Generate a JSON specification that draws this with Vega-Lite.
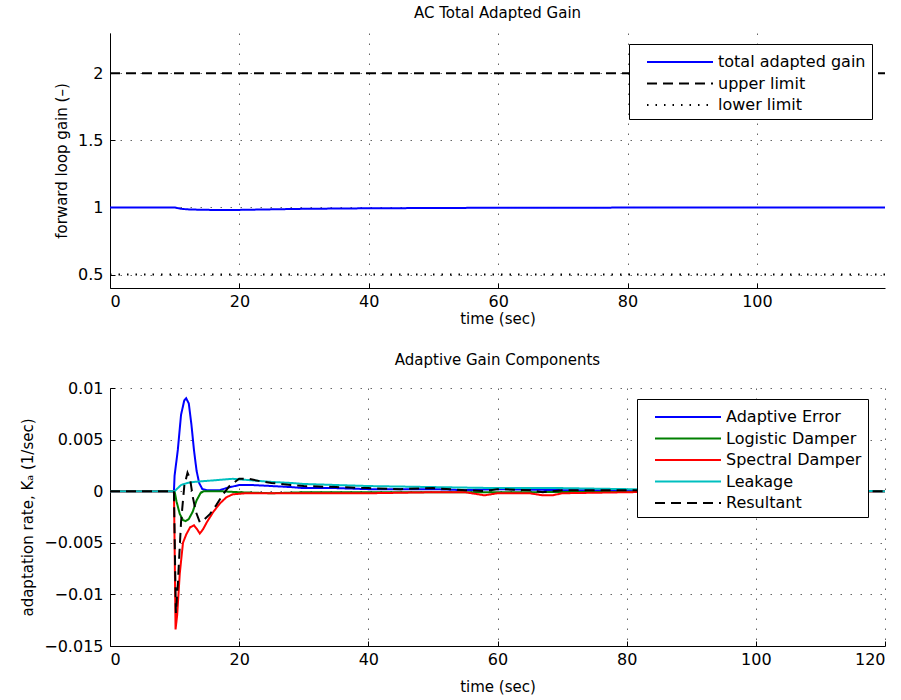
{
  "$schema": "https://vega.github.io/schema/vega-lite/v6.json",
  "padding": {"left": 20, "top": 6, "right": 5, "bottom": 5},
  "spacing": 27,
  "resolve": {
    "scale": {"color": "independent", "strokeDash": "independent"},
    "legend": {"color": "independent", "strokeDash": "independent"}
  },
  "config": {
    "font": "DejaVu Sans",
    "view": {"stroke": null},
    "axis": {
      "labelFont": "DejaVu Sans", "labelFontSize": 16, "labelColor": "#000", "labelPadding": 12,
      "titleFont": "DejaVu Sans", "titleFontSize": 15, "titleFontWeight": "normal", "titleColor": "#000", "titlePadding": 8,
      "domainColor": "#000", "domainWidth": 1, "tickColor": "#000", "tickSize": -5,
      "grid": true, "gridColor": "#000", "gridDash": [1.5, 8.5], "gridOpacity": 0.6, "gridWidth": 1
    },
    "axisX": {"labelPadding": 10, "titlePadding": 2},
    "legend": {
      "orient": "none", "strokeColor": "#000", "fillColor": "#fff", "padding": 6,
      "labelFont": "DejaVu Sans", "labelFontSize": 16, "labelColor": "#000",
      "symbolType": "M0,0H6", "symbolSize": 484, "symbolStrokeWidth": 2, "title": null,
      "rowPadding": 1.5, "labelOffset": 59
    },
    "title": {"font": "DejaVu Sans", "fontSize": 15, "fontWeight": "normal", "color": "#000", "offset": 12}
  },
  "datasets": {
    "gain": [
      {"t": 0, "v": 1, "s": "total adapted gain"},
      {"t": 10, "v": 1, "s": "total adapted gain"},
      {"t": 10.5, "v": 0.995, "s": "total adapted gain"},
      {"t": 11, "v": 0.99, "s": "total adapted gain"},
      {"t": 12, "v": 0.986, "s": "total adapted gain"},
      {"t": 14, "v": 0.983, "s": "total adapted gain"},
      {"t": 17, "v": 0.981, "s": "total adapted gain"},
      {"t": 20, "v": 0.982, "s": "total adapted gain"},
      {"t": 25, "v": 0.986, "s": "total adapted gain"},
      {"t": 30, "v": 0.99, "s": "total adapted gain"},
      {"t": 40, "v": 0.994, "s": "total adapted gain"},
      {"t": 50, "v": 0.996, "s": "total adapted gain"},
      {"t": 60, "v": 0.998, "s": "total adapted gain"},
      {"t": 80, "v": 0.999, "s": "total adapted gain"},
      {"t": 100, "v": 1, "s": "total adapted gain"},
      {"t": 119.8, "v": 1, "s": "total adapted gain"},
      {"t": 0, "v": 2, "s": "upper limit"},
      {"t": 119.8, "v": 2, "s": "upper limit"},
      {"t": 0, "v": 0.5, "s": "lower limit"},
      {"t": 119.8, "v": 0.5, "s": "lower limit"}
    ],
    "comp": [
      {"t": 0, "v": 0, "s": "Adaptive Error"},
      {"t": 9.9, "v": 0, "s": "Adaptive Error"},
      {"t": 10.0, "v": 0.0015, "s": "Adaptive Error"},
      {"t": 10.5, "v": 0.004, "s": "Adaptive Error"},
      {"t": 11, "v": 0.0074, "s": "Adaptive Error"},
      {"t": 11.5, "v": 0.0088, "s": "Adaptive Error"},
      {"t": 11.8, "v": 0.009, "s": "Adaptive Error"},
      {"t": 12.2, "v": 0.0085, "s": "Adaptive Error"},
      {"t": 12.6, "v": 0.0065, "s": "Adaptive Error"},
      {"t": 13, "v": 0.004, "s": "Adaptive Error"},
      {"t": 13.4, "v": 0.002, "s": "Adaptive Error"},
      {"t": 13.8, "v": 0.0008, "s": "Adaptive Error"},
      {"t": 14.3, "v": 0.0002, "s": "Adaptive Error"},
      {"t": 15, "v": 0.0001, "s": "Adaptive Error"},
      {"t": 17, "v": 0.0001, "s": "Adaptive Error"},
      {"t": 18, "v": 0.0003, "s": "Adaptive Error"},
      {"t": 20, "v": 0.0006, "s": "Adaptive Error"},
      {"t": 22, "v": 0.0006, "s": "Adaptive Error"},
      {"t": 25, "v": 0.0005, "s": "Adaptive Error"},
      {"t": 28, "v": 0.0004, "s": "Adaptive Error"},
      {"t": 30, "v": 0.0003, "s": "Adaptive Error"},
      {"t": 35, "v": 0.0003, "s": "Adaptive Error"},
      {"t": 40, "v": 0.0002, "s": "Adaptive Error"},
      {"t": 50, "v": 0.0002, "s": "Adaptive Error"},
      {"t": 55, "v": 0.0001, "s": "Adaptive Error"},
      {"t": 60, "v": 0.0002, "s": "Adaptive Error"},
      {"t": 70, "v": 0.0001, "s": "Adaptive Error"},
      {"t": 80, "v": 0.0001, "s": "Adaptive Error"},
      {"t": 90, "v": 0, "s": "Adaptive Error"},
      {"t": 120, "v": 0, "s": "Adaptive Error"},
      {"t": 0, "v": 0, "s": "Logistic Damper"},
      {"t": 10, "v": 0, "s": "Logistic Damper"},
      {"t": 10.3, "v": -0.001, "s": "Logistic Damper"},
      {"t": 10.8, "v": -0.0022, "s": "Logistic Damper"},
      {"t": 11.3, "v": -0.0028, "s": "Logistic Damper"},
      {"t": 11.7, "v": -0.0029, "s": "Logistic Damper"},
      {"t": 12.2, "v": -0.0027, "s": "Logistic Damper"},
      {"t": 12.8, "v": -0.002, "s": "Logistic Damper"},
      {"t": 13.4, "v": -0.0009, "s": "Logistic Damper"},
      {"t": 14, "v": -0.0002, "s": "Logistic Damper"},
      {"t": 14.5, "v": 0, "s": "Logistic Damper"},
      {"t": 17, "v": 0, "s": "Logistic Damper"},
      {"t": 20, "v": -0.0001, "s": "Logistic Damper"},
      {"t": 25, "v": -0.0002, "s": "Logistic Damper"},
      {"t": 30, "v": -0.0001, "s": "Logistic Damper"},
      {"t": 60, "v": -0.0001, "s": "Logistic Damper"},
      {"t": 120, "v": 0, "s": "Logistic Damper"},
      {"t": 0, "v": 0, "s": "Spectral Damper"},
      {"t": 9.9, "v": 0, "s": "Spectral Damper"},
      {"t": 10.0, "v": -0.005, "s": "Spectral Damper"},
      {"t": 10.15, "v": -0.0134, "s": "Spectral Damper"},
      {"t": 10.4, "v": -0.012, "s": "Spectral Damper"},
      {"t": 10.8, "v": -0.008, "s": "Spectral Damper"},
      {"t": 11.3, "v": -0.005, "s": "Spectral Damper"},
      {"t": 11.8, "v": -0.0042, "s": "Spectral Damper"},
      {"t": 12.4, "v": -0.0035, "s": "Spectral Damper"},
      {"t": 13.0, "v": -0.0033, "s": "Spectral Damper"},
      {"t": 13.5, "v": -0.0037, "s": "Spectral Damper"},
      {"t": 13.9, "v": -0.0041, "s": "Spectral Damper"},
      {"t": 14.4, "v": -0.0037, "s": "Spectral Damper"},
      {"t": 15, "v": -0.003, "s": "Spectral Damper"},
      {"t": 16, "v": -0.002, "s": "Spectral Damper"},
      {"t": 17, "v": -0.0012, "s": "Spectral Damper"},
      {"t": 18, "v": -0.0006, "s": "Spectral Damper"},
      {"t": 19, "v": -0.0003, "s": "Spectral Damper"},
      {"t": 21, "v": -0.0002, "s": "Spectral Damper"},
      {"t": 30, "v": -0.0002, "s": "Spectral Damper"},
      {"t": 40, "v": -0.0002, "s": "Spectral Damper"},
      {"t": 50, "v": -0.0001, "s": "Spectral Damper"},
      {"t": 55, "v": -0.0001, "s": "Spectral Damper"},
      {"t": 57, "v": -0.0003, "s": "Spectral Damper"},
      {"t": 58, "v": -0.0004, "s": "Spectral Damper"},
      {"t": 60, "v": -0.0002, "s": "Spectral Damper"},
      {"t": 65, "v": -0.0002, "s": "Spectral Damper"},
      {"t": 67, "v": -0.0004, "s": "Spectral Damper"},
      {"t": 68.5, "v": -0.0004, "s": "Spectral Damper"},
      {"t": 70, "v": -0.0002, "s": "Spectral Damper"},
      {"t": 80, "v": -0.0001, "s": "Spectral Damper"},
      {"t": 90, "v": 0, "s": "Spectral Damper"},
      {"t": 120, "v": 0, "s": "Spectral Damper"},
      {"t": 0, "v": 0, "s": "Leakage"},
      {"t": 10, "v": 0, "s": "Leakage"},
      {"t": 10.5, "v": 0.0003, "s": "Leakage"},
      {"t": 11, "v": 0.0006, "s": "Leakage"},
      {"t": 12, "v": 0.0008, "s": "Leakage"},
      {"t": 13, "v": 0.0009, "s": "Leakage"},
      {"t": 15, "v": 0.001, "s": "Leakage"},
      {"t": 17, "v": 0.0011, "s": "Leakage"},
      {"t": 19, "v": 0.0012, "s": "Leakage"},
      {"t": 21, "v": 0.0011, "s": "Leakage"},
      {"t": 23, "v": 0.001, "s": "Leakage"},
      {"t": 25, "v": 0.0009, "s": "Leakage"},
      {"t": 28, "v": 0.0008, "s": "Leakage"},
      {"t": 30, "v": 0.0007, "s": "Leakage"},
      {"t": 35, "v": 0.0006, "s": "Leakage"},
      {"t": 40, "v": 0.0005, "s": "Leakage"},
      {"t": 50, "v": 0.0004, "s": "Leakage"},
      {"t": 60, "v": 0.0003, "s": "Leakage"},
      {"t": 70, "v": 0.0003, "s": "Leakage"},
      {"t": 80, "v": 0.0002, "s": "Leakage"},
      {"t": 90, "v": 0.0001, "s": "Leakage"},
      {"t": 100, "v": 0.0001, "s": "Leakage"},
      {"t": 120, "v": 0, "s": "Leakage"},
      {"t": 0, "v": 0, "s": "Resultant"},
      {"t": 9.9, "v": 0, "s": "Resultant"},
      {"t": 10.0, "v": -0.004, "s": "Resultant"},
      {"t": 10.2, "v": -0.0118, "s": "Resultant"},
      {"t": 10.5, "v": -0.009, "s": "Resultant"},
      {"t": 11, "v": -0.003, "s": "Resultant"},
      {"t": 11.5, "v": 0.0005, "s": "Resultant"},
      {"t": 12.0, "v": 0.0018, "s": "Resultant"},
      {"t": 12.4, "v": 0.0012, "s": "Resultant"},
      {"t": 12.8, "v": -0.0005, "s": "Resultant"},
      {"t": 13.3, "v": -0.002, "s": "Resultant"},
      {"t": 13.9, "v": -0.003, "s": "Resultant"},
      {"t": 14.5, "v": -0.0028, "s": "Resultant"},
      {"t": 15.5, "v": -0.0022, "s": "Resultant"},
      {"t": 16.5, "v": -0.0013, "s": "Resultant"},
      {"t": 17.5, "v": -0.0003, "s": "Resultant"},
      {"t": 18.5, "v": 0.0005, "s": "Resultant"},
      {"t": 20, "v": 0.0012, "s": "Resultant"},
      {"t": 21.5, "v": 0.0012, "s": "Resultant"},
      {"t": 23, "v": 0.001, "s": "Resultant"},
      {"t": 25, "v": 0.0008, "s": "Resultant"},
      {"t": 28, "v": 0.0006, "s": "Resultant"},
      {"t": 30, "v": 0.0005, "s": "Resultant"},
      {"t": 35, "v": 0.0004, "s": "Resultant"},
      {"t": 40, "v": 0.0003, "s": "Resultant"},
      {"t": 45, "v": 0.0002, "s": "Resultant"},
      {"t": 50, "v": 0.0003, "s": "Resultant"},
      {"t": 55, "v": 0.0001, "s": "Resultant"},
      {"t": 58, "v": 0, "s": "Resultant"},
      {"t": 60, "v": 0.0002, "s": "Resultant"},
      {"t": 65, "v": 0.0001, "s": "Resultant"},
      {"t": 67, "v": -0.0001, "s": "Resultant"},
      {"t": 70, "v": 0.0001, "s": "Resultant"},
      {"t": 80, "v": 0.0001, "s": "Resultant"},
      {"t": 90, "v": 0, "s": "Resultant"},
      {"t": 120, "v": 0, "s": "Resultant"}
    ]
  },
  "vconcat": [
    {
      "width": 775, "height": 255,
      "title": "AC Total Adapted Gain",
      "data": {"name": "gain"},
      "mark": {"type": "line", "strokeWidth": 2, "clip": true},
      "encoding": {
        "x": {"field": "t", "type": "quantitative", "title": "time (sec)",
              "scale": {"domain": [0, 119.8], "nice": false},
              "axis": {"values": [0, 20, 40, 60, 80, 100]}},
        "y": {"field": "v", "type": "quantitative", "title": "forward loop gain (–)",
              "scale": {"domain": [0.4, 2.3], "nice": false, "zero": false},
              "axis": {"values": [0.5, 1, 1.5, 2], "format": "~g"}},
        "color": {"field": "s", "type": "nominal",
                  "scale": {"domain": ["total adapted gain", "upper limit", "lower limit"], "range": ["#0000ff", "#000000", "#000000"]},
                  "legend": {"legendX": 519, "legendY": 11}},
        "strokeDash": {"field": "s", "type": "nominal",
                  "scale": {"domain": ["total adapted gain", "upper limit", "lower limit"], "range": [[1, 0], [10, 6], [1.5, 7]]},
                  "legend": {"legendX": 519, "legendY": 11}}
      }
    },
    {
      "width": 775, "height": 258,
      "title": "Adaptive Gain Components",
      "data": {"name": "comp"},
      "mark": {"type": "line", "strokeWidth": 2, "clip": true},
      "encoding": {
        "x": {"field": "t", "type": "quantitative", "title": "time (sec)",
              "scale": {"domain": [0, 120], "nice": false},
              "axis": {"values": [0, 20, 40, 60, 80, 100, 120], "titlePadding": 12}},
        "y": {"field": "v", "type": "quantitative", "title": "adaptation rate, Kₐ (1/sec)",
              "scale": {"domain": [-0.015, 0.01], "nice": false, "zero": false},
              "axis": {"values": [-0.015, -0.01, -0.005, 0, 0.005, 0.01], "format": ".3~f"}},
        "color": {"field": "s", "type": "nominal",
                  "scale": {"domain": ["Adaptive Error", "Logistic Damper", "Spectral Damper", "Leakage", "Resultant"], "range": ["#0000ff", "#008000", "#ff0000", "#00bfbf", "#000000"]},
                  "legend": {"legendX": 527, "legendY": 11}},
        "strokeDash": {"field": "s", "type": "nominal",
                  "scale": {"domain": ["Adaptive Error", "Logistic Damper", "Spectral Damper", "Leakage", "Resultant"], "range": [[1, 0], [1, 0], [1, 0], [1, 0], [10, 6]]},
                  "legend": {"legendX": 527, "legendY": 11}}
      }
    }
  ]
}
